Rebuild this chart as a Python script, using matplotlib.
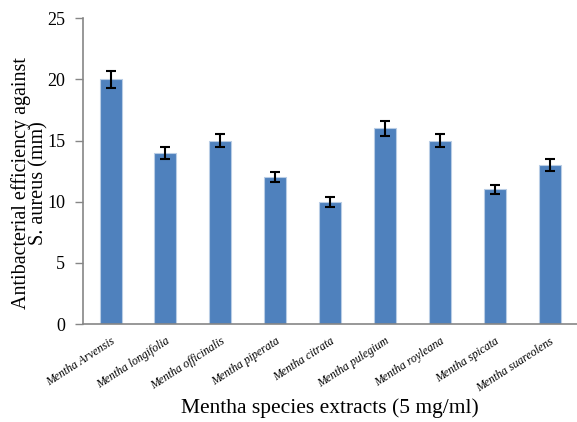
import matplotlib
matplotlib.use('Agg')
import matplotlib.pyplot as plt

species = ['Mentha Arvensis', 'Mentha longifolia', 'Mentha officinalis', 'Mentha piperata',
           'Mentha citrata', 'Mentha pulegium', 'Mentha royleana', 'Mentha spicata',
           'Mentha suareolens']
values = [20, 14, 15, 12, 10, 16, 15, 11, 13]
errors = [0.7, 0.5, 0.5, 0.4, 0.4, 0.6, 0.5, 0.4, 0.45]

plt.rcParams['font.family'] = ['Liberation Serif', 'DejaVu Serif']

fig = plt.figure(figsize=(5.77, 4.22), dpi=100)
ax = fig.add_axes([0.144, 0.232, 0.856, 0.725])

x = range(len(species))
ax.bar(x, values, width=0.4, color='#4F81BD', edgecolor='#B9CDE5', linewidth=0.8,
       yerr=errors, capsize=3.5, error_kw={'elinewidth': 1.5, 'capthick': 1.5, 'ecolor': 'black'})

ax.set_xlim(-0.5, len(species) - 0.5)
ax.set_ylim(0, 25)
ax.set_yticks([0, 5, 10, 15, 20, 25])
ax.set_xticks(list(x))
ax.set_xticklabels(species, rotation=33, ha='right', rotation_mode='anchor',
                   fontsize=8.5, fontstyle='italic')
ax.tick_params(axis='y', labelsize=13, colors='#868686', labelcolor='black', length=6, width=1, pad=7)
ax.tick_params(axis='x', length=0, pad=8)

for s in ['top', 'right']:
    ax.spines[s].set_visible(False)
for s in ['left', 'bottom']:
    ax.spines[s].set_color('#868686')
    ax.spines[s].set_linewidth(1.2)

fig.text(330 / 577, 1 - 408 / 422, 'Mentha species extracts (5 mg/ml)', fontsize=15.5,
         ha='center', va='center')
fig.text(30 / 577, 1 - 183.5 / 422, 'Antibacterial efficiency against\nS. aureus (mm)',
         fontsize=14.5, rotation=90, ha='center', va='center', linespacing=0.88)

fig.savefig('out.png', dpi=100)
